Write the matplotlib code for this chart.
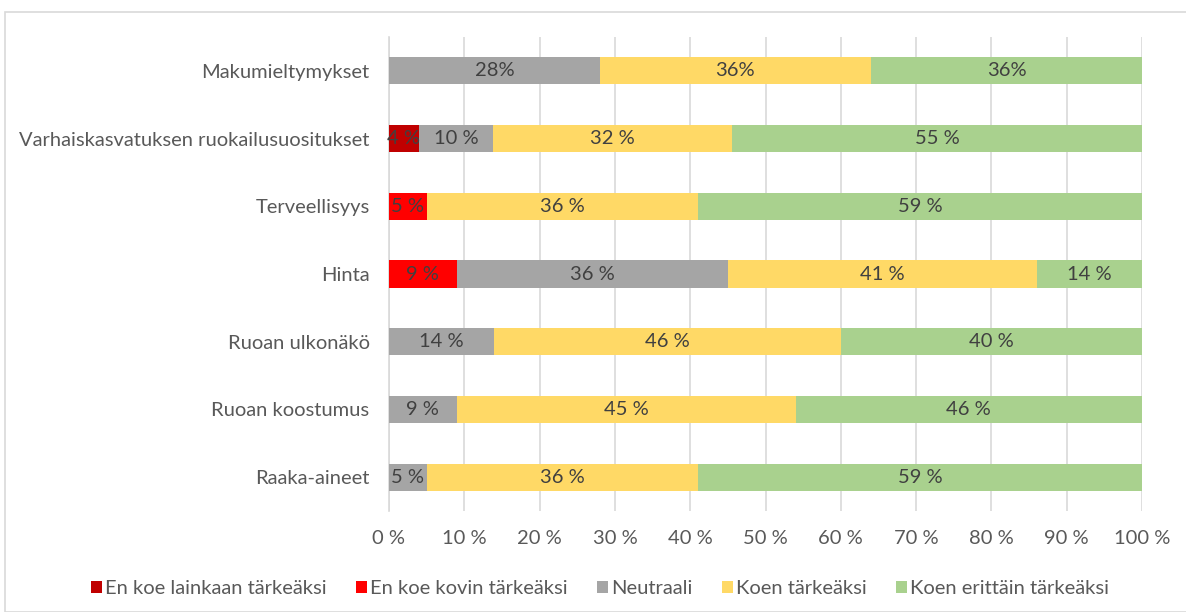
import numpy as np
import matplotlib.pyplot as plt
from matplotlib.patches import Rectangle, Patch

plt.rcParams['font.family'] = ['Lato', 'DejaVu Sans']

# Kategoriat ylhäältä alas
kategoriat = ['Makumieltymykset', 'Varhaiskasvatuksen ruokailusuositukset', 'Terveellisyys',
              'Hinta', 'Ruoan ulkonäkö', 'Ruoan koostumus', 'Raaka-aineet']

sarjat = ['En koe lainkaan tärkeäksi', 'En koe kovin tärkeäksi', 'Neutraali',
          'Koen tärkeäksi', 'Koen erittäin tärkeäksi']
varit = ['#C00000', '#FF0000', '#A5A5A5', '#FFD966', '#A9D18E']

# prosentit (sarjoittain, kategorioiden järjestyksessä)
lainkaan = [0, 4, 0, 0, 0, 0, 0]
kovin = [0, 0, 5, 9, 0, 0, 0]
neutraali = [28, 10, 0, 36, 14, 9, 5]
tarkea = [36, 32, 36, 41, 46, 45, 36]
erittain = [36, 55, 59, 14, 40, 46, 59]

# ensimmäisen rivin tunnisteissa ei ole välilyöntiä
erotin = ['', ' ', ' ', ' ', ' ', ' ', ' ']

data = np.array([lainkaan, kovin, neutraali, tarkea, erittain], dtype=float)
osuus = data / data.sum(axis=0) * 100  # 100 % pinottu kuten Excelissä

fs = 14.5
fig = plt.figure(figsize=(11.86, 6.12), dpi=100)
fig.patches.append(Rectangle((5 / 1186, 0), 1.0, 1 - 12 / 612, transform=fig.transFigure,
                             fill=False, edgecolor='#D9D9D9', linewidth=1.2))
ax = fig.add_axes([389 / 1186, 1 - 511 / 612, (1142 - 389) / 1186, (511 - 37) / 612])

y = np.arange(len(kategoriat))
vasen = np.zeros(len(kategoriat))
for i in range(len(sarjat)):
    ax.barh(y, osuus[i], left=vasen, height=0.4, color=varit[i], label=sarjat[i], zorder=3)
    for j in range(len(kategoriat)):
        if data[i, j] > 0:
            ax.text(vasen[j] + osuus[i, j] / 2, y[j], f'{int(data[i, j])}{erotin[j]}%',
                    ha='center', va='center', fontsize=fs, color='#404040', zorder=4)
    vasen += osuus[i]

ax.set_xlim(0, 100)
ax.set_ylim(len(kategoriat) - 0.5, -0.5)
ax.set_yticks(y)
ax.set_yticklabels(kategoriat, fontsize=fs, color='#595959')
ax.set_xticks(np.arange(0, 101, 10))
ax.set_xticklabels([f'{v} %' for v in range(0, 101, 10)], fontsize=fs, color='#595959')
ax.tick_params(axis='both', length=0)
ax.tick_params(axis='y', pad=14)
ax.tick_params(axis='x', pad=14)
ax.grid(axis='x', color='#D9D9D9', linewidth=1.2, zorder=0)
for s in ['top', 'right', 'bottom']:
    ax.spines[s].set_visible(False)
ax.spines['left'].set_color('#D9D9D9')
ax.spines['left'].set_linewidth(1.2)

kahvat = [Patch(facecolor=c, edgecolor='none') for c in varit]
fig.legend(kahvat, sarjat, loc='center', bbox_to_anchor=(600 / 1186, 1 - 589 / 612), ncol=5,
           frameon=False, fontsize=fs, handlelength=0.55, handleheight=0.55, handletextpad=0.15,
           columnspacing=1.45, labelcolor='#595959')

fig.savefig('out.png', dpi=100)
